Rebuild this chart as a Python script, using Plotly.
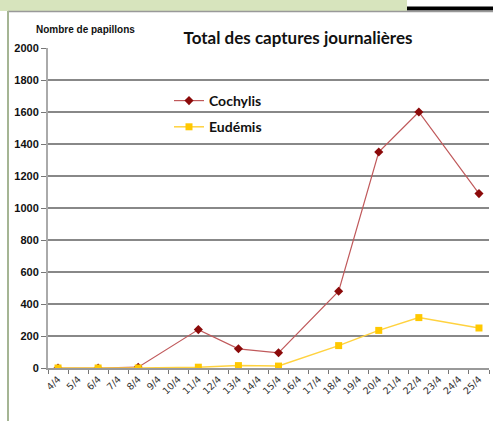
import plotly.graph_objects as go

days = ["4/4", "5/4", "6/4", "7/4", "8/4", "9/4", "10/4", "11/4", "12/4", "13/4", "14/4",
        "15/4", "16/4", "17/4", "18/4", "19/4", "20/4", "21/4", "22/4", "23/4", "24/4", "25/4"]
capture_dates = ["4/4", "6/4", "8/4", "11/4", "13/4", "15/4", "18/4", "20/4", "22/4", "25/4"]
cochylis = [0, 0, 5, 240, 120, 95, 480, 1350, 1600, 1090]
eudemis = [0, 0, 0, 5, 15, 12, 140, 235, 315, 250]
y_ticks = [0, 200, 400, 600, 800, 1000, 1200, 1400, 1600, 1800, 2000]

W, H = 493, 421
L, R, T, B = 48, 4, 48, 53
PW, PH = W - L - R, H - T - B


def px(x):
    return (x - L) / PW


def py(y):
    return (H - B - y) / PH


fig = go.Figure()
fig.add_trace(go.Scatter(
    x=capture_dates, y=cochylis, name="Cochylis", mode="lines+markers",
    legendgroup="c",
    line=dict(color="#c0595b", width=1.2),
    marker=dict(symbol="diamond", size=7, color="#8b0a0a"),
))
fig.add_trace(go.Scatter(
    x=capture_dates, y=eudemis, name="Eudémis", mode="lines+markers",
    legendgroup="e",
    line=dict(color="#ffd23f", width=1.5),
    marker=dict(symbol="square", size=7, color="#ffc800"),
))

fig.update_layout(
    width=W, height=H,
    margin=dict(l=L, r=R, t=T, b=B),
    paper_bgcolor="white", plot_bgcolor="white",
    font=dict(family="Lato, Arial, sans-serif", color="#111"),
    title=dict(text="Total des captures journalières", xref="container", x=298 / W,
               xanchor="center", y=1 - 38 / H, yanchor="middle",
               font=dict(family="Lato", size=17, weight="bold", color="#111")),
    showlegend=True,
    legend=dict(x=px(169), y=py(85), xanchor="left", yanchor="top",
                bgcolor="rgba(0,0,0,0)", itemwidth=30, tracegroupgap=5,
                font=dict(family="Lato", size=14, weight="bold", color="#111")),
    xaxis=dict(type="category", categoryorder="array", categoryarray=days,
               tickvals=days, ticktext=days, range=[-0.5, len(days) - 0.5],
               tickson="boundaries", ticks="outside", ticklen=4, tickcolor="#777",
               tickangle=-45, tickfont=dict(family="DejaVu Sans", size=9.5, color="#333"),
               showline=True, linecolor="#999", linewidth=2, showgrid=False,
               zeroline=False),
    yaxis=dict(range=[0, 2000], tickvals=y_ticks, ticks="outside", ticklen=5,
               tickcolor="#777", showline=True, linecolor="#aaa", linewidth=2,
               showgrid=True, gridcolor="#888", gridwidth=1.5, zeroline=False,
               tickfont=dict(family="Liberation Sans Narrow, Arial Narrow, sans-serif",
                             size=11, weight="bold", color="#111")),
    shapes=[
        dict(type="rect", xref="paper", yref="paper", x0=px(0), x1=px(407),
             y0=py(11), y1=py(0), fillcolor="#d7e4bd", line_width=0, layer="below"),
        dict(type="rect", xref="paper", yref="paper", x0=px(407), x1=px(493),
             y0=py(10.5), y1=py(6.5), fillcolor="black", line_width=0),
        dict(type="line", xref="paper", yref="paper", x0=px(8), x1=px(493),
             y0=py(11.5), y1=py(11.5), line=dict(color="#999", width=1.5)),
        dict(type="line", xref="paper", yref="paper", x0=px(8), x1=px(8),
             y0=py(11), y1=py(421), line=dict(color="#a5b594", width=2)),
    ],
    annotations=[
        dict(text="Nombre de papillons", xref="paper", yref="paper",
             x=px(85), y=py(29), xanchor="center", yanchor="middle",
             showarrow=False,
             font=dict(family="Liberation Sans Narrow, Arial Narrow, sans-serif",
                       size=10, weight="bold", color="#111")),
    ],
)

fig.write_html("out.html", config={"displayModeBar": False},
               post_script="document.body.style.margin='0';document.body.style.overflow='hidden';")
